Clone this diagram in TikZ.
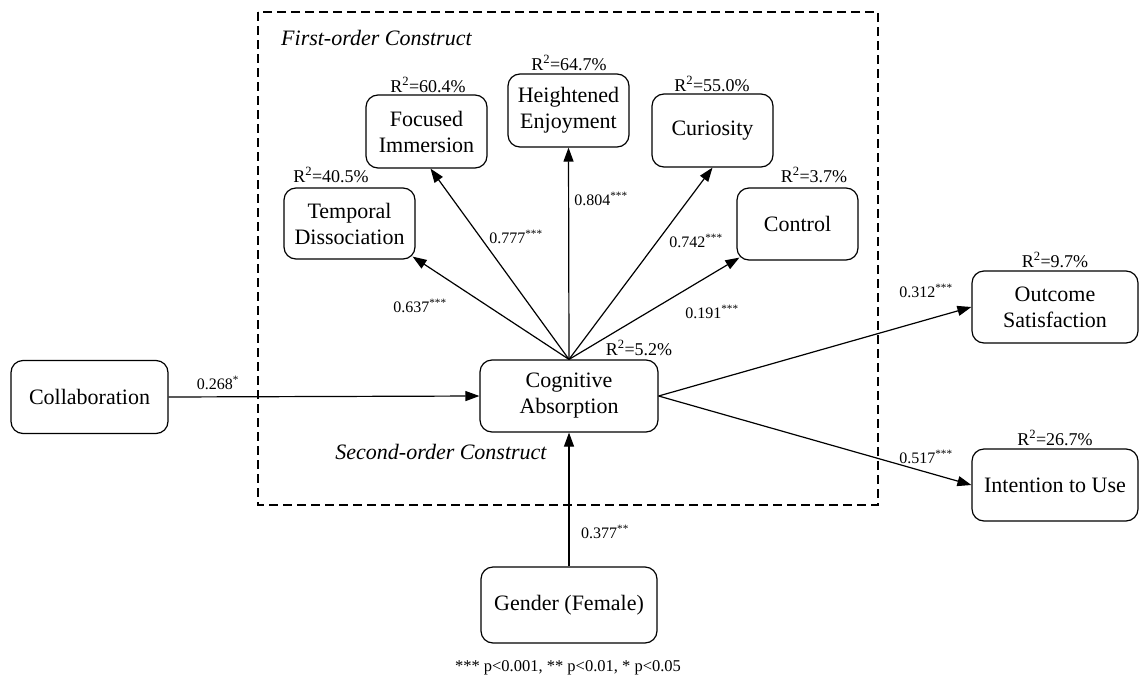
\documentclass[tikz,border=0pt]{standalone}
\usepackage{fontspec}
\setmainfont{Liberation Serif}
\usetikzlibrary{arrows.meta,calc}
\begin{document}
\begin{tikzpicture}[x=1pt,y=-1pt,
  box/.style={draw,rounded corners=12pt,line width=1.2pt,align=center,inner sep=0pt,
    font=\fontsize{22}{26}\selectfont},
  rsq/.style={font=\fontsize{18}{20}\selectfont,inner sep=0pt},
  coef/.style={font=\fontsize{16}{18}\selectfont,inner sep=0pt},
  lbl/.style={font=\fontsize{22}{24}\selectfont\itshape,inner sep=0pt},
  arr/.style={line width=1.2pt,-{Triangle[length=14pt,width=10pt]}},
  frame/.style={line width=1.2pt,dash pattern=on 9pt off 5pt}]
\useasboundingbox (0,0) rectangle (1140,680);
\draw[frame] (258,12) rectangle (878,505);
\node[lbl,anchor=west] (fo) at (281,38) {First-order Construct};
\node[lbl] (so) at (441,452) {Second-order Construct};

\node[box,minimum width=121pt,minimum height=73pt] (foc) at (426.5,131.5) {Focused\\Immersion};
\node[box,minimum width=121pt,minimum height=73pt] (hei) at (568.5,110.5) {Heightened\\Enjoyment};
\node[box,minimum width=121pt,minimum height=73pt] (cur) at (712.5,130.5) {Curiosity};
\node[box,minimum width=131pt,minimum height=71pt] (tem) at (349.5,223.5) {Temporal\\Dissociation};
\node[box,minimum width=121pt,minimum height=72pt] (con) at (797.5,224) {Control};
\node[box,minimum width=178pt,minimum height=72pt] (ca) at (569,396) {Cognitive\\Absorption};
\node[box,minimum width=166pt,minimum height=72pt] (out) at (1055,307) {Outcome\\Satisfaction};
\node[box,minimum width=166pt,minimum height=72pt] (int) at (1055,485) {Intention to Use};
\node[box,minimum width=176pt,minimum height=76pt] (gen) at (569,605) {Gender (Female)};
\node[box,minimum width=157pt,minimum height=73pt] (col) at (89.5,397) {Collaboration};

\node[rsq] (r1) at (428,85) {R\textsuperscript{2}=60.4\%};
\node[rsq] (r2) at (569,63) {R\textsuperscript{2}=64.7\%};
\node[rsq] (r3) at (712,84) {R\textsuperscript{2}=55.0\%};
\node[rsq] (r4) at (331,175) {R\textsuperscript{2}=40.5\%};
\node[rsq] (r5) at (814,175) {R\textsuperscript{2}=3.7\%};
\node[rsq] (r6) at (639,348) {R\textsuperscript{2}=5.2\%};
\node[rsq] (r7) at (1055,260) {R\textsuperscript{2}=9.7\%};
\node[rsq] (r8) at (1055,438) {R\textsuperscript{2}=26.7\%};

\draw[arr] (ca.north) -- ($(tem.south east)+(-3,-3)$);
\draw[arr] (ca.north) -- ($(foc.south)+(4,0)$);
\draw[arr] (ca.north) -- (hei.south);
\draw[arr] (ca.north) -- (cur.south);
\draw[arr] (ca.north) -- ($(con.south west)+(3,-3)$);
\draw[arr] (col.east) -- (ca.west);
\draw[arr] (gen.north) -- (ca.south);
\draw[arr] (ca.east) -- (out.west);
\draw[arr] (ca.east) -- (int.west);

\node[coef] (c1) at (420,306) {0.637\textsuperscript{***}};
\node[coef] (c2) at (516,237) {0.777\textsuperscript{***}};
\node[coef] (c3) at (601,199) {0.804\textsuperscript{***}};
\node[coef] (c4) at (696,241) {0.742\textsuperscript{***}};
\node[coef] (c5) at (712,312) {0.191\textsuperscript{***}};
\node[coef] (c6) at (926,291) {0.312\textsuperscript{***}};
\node[coef] (c7) at (926,457) {0.517\textsuperscript{***}};
\node[coef] (c8) at (218,383) {0.268\textsuperscript{*}};
\node[coef] (c9) at (605,532) {0.377\textsuperscript{**}};
\node[coef,font=\fontsize{16.5}{18}\selectfont] (fn) at (568,668) {*** p<0.001, ** p<0.01, * p<0.05};
\end{tikzpicture}
\end{document}
